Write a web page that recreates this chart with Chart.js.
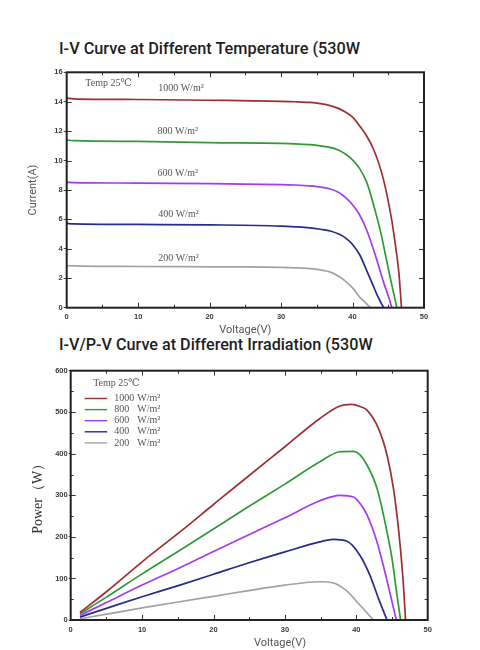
<!DOCTYPE html>
<html><head><meta charset="utf-8">
<script src="https://cdn.jsdelivr.net/npm/chart.js@4.4.1/dist/chart.umd.min.js"></script>
<style>
html,body{margin:0;padding:0;background:#fff;width:480px;height:650px;overflow:hidden;position:relative}
.title{position:absolute;left:59px;font:500 16px/16px Roboto,sans-serif;color:#1e1e1e;white-space:nowrap;transform-origin:0 0}
#c1{position:absolute;left:0;top:60px}
#c2{position:absolute;left:0;top:360px}
.xt{position:absolute;font:11px/12px Roboto,sans-serif;color:#555;white-space:nowrap}
</style></head><body>
<div class="title" id="t1" style="top:40.5px">I-V Curve at Different Temperature (530W</div>
<div class="title" id="t2" style="top:336.5px">I-V/P-V Curve at Different Irradiation (530W</div>
<canvas id="c1" width="480" height="285"></canvas>
<canvas id="c2" width="480" height="290"></canvas>
<div class="xt" id="xt2" style="left:255px;top:637px">Voltage(V)</div>
<script>
// ---------- data: irradiance series ----------
const irradiance = ['1000', '800', '600', '400', '200'];
const unit = 'W/m²';
const tempLabel = 'Temp 25℃';
const voltageTicks = [0, 10, 20, 30, 40, 50];
const currentTicks = [0, 2, 4, 6, 8, 10, 12, 14, 16];
const powerTicks = [0, 100, 200, 300, 400, 500, 600];

// I-V curves (voltage V, current A)
const iv1000V = [0, 1, 10, 20, 30, 32, 34, 35.5, 37, 38, 39, 40, 41, 42, 43, 44, 44.8, 45.5, 46.1, 46.5, 46.85];
const iv1000I = [14.25, 14.2, 14.15, 14.1, 14.03, 14.0, 13.95, 13.87, 13.72, 13.55, 13.3, 12.95, 12.35, 11.65, 10.7, 9.3, 7.7, 5.9, 3.9, 2.3, 0];
const iv800V = [0, 1, 10, 20, 30, 32, 34, 35.5, 37, 38, 39, 40, 41, 42, 43, 44, 44.6, 45.2, 45.7, 46.2];
const iv800I = [11.4, 11.35, 11.3, 11.22, 11.17, 11.14, 11.08, 11.0, 10.88, 10.72, 10.45, 10.05, 9.45, 8.5, 6.9, 5.0, 3.6, 2.2, 1.1, 0];
const iv600V = [0, 1, 10, 20, 30, 32, 34, 35.5, 37, 38, 39, 40, 41, 42, 43, 43.8, 44.5, 45.0, 45.5];
const iv600I = [8.52, 8.5, 8.47, 8.43, 8.37, 8.34, 8.28, 8.2, 8.05, 7.85, 7.5, 7.0, 6.3, 5.25, 3.85, 2.6, 1.5, 0.8, 0];
const iv400V = [0, 1, 10, 20, 30, 32, 34, 35.5, 37, 38, 39, 40, 41, 42, 42.8, 43.5, 44.35];
const iv400I = [5.73, 5.7, 5.66, 5.63, 5.55, 5.5, 5.43, 5.33, 5.2, 5.02, 4.75, 4.3, 3.6, 2.5, 1.6, 0.8, 0];
const iv200V = [0, 1, 10, 20, 25, 30, 32, 34, 35.5, 37, 38, 39, 40, 41, 41.8, 42.5];
const iv200I = [2.86, 2.84, 2.8, 2.78, 2.77, 2.74, 2.71, 2.66, 2.57, 2.4, 2.15, 1.8, 1.35, 0.72, 0.35, 0];

// P-V curves (voltage V, power W)
const pv1000V = [1.3, 5, 10, 15.3, 20, 24.65, 30, 34.9, 37.7, 39.35, 40.5, 41.5, 43.1, 44.3, 45.2, 45.9, 46.5, 46.9];
const pv1000P = [18, 68, 140, 212, 278, 343, 417, 485, 515, 519, 514, 505, 461, 397, 317, 221, 108, 0];
const pv800V = [1.3, 5, 10, 15.3, 20, 24.65, 30, 34.9, 37.7, 39.6, 40.5, 41.5, 42.9, 44.0, 45.0, 45.7, 46.2];
const pv800P = [15, 55, 111, 168, 219, 270, 327, 381, 405, 406, 398, 373, 317, 237, 148, 60, 0];
const pv600V = [1.3, 5, 10, 15.3, 20, 24.65, 30, 34.9, 37.7, 39.6, 40.5, 41.5, 42.9, 44.0, 45.0, 45.6];
const pv600P = [11, 42, 84, 126, 165, 203, 246, 287, 300, 296, 281, 253, 188, 116, 44, 0];
const pv400V = [1.3, 5, 10, 15.3, 20, 24.65, 30, 34.9, 36.8, 38.65, 40.5, 41.9, 43.1, 44.3];
const pv400P = [7, 28, 56, 84, 110, 136, 164, 188, 194, 190, 156, 108, 52, 0];
const pv200V = [1.3, 5, 10, 15.3, 20, 24.65, 30, 34.9, 36.8, 38.65, 40.5, 42.4];
const pv200P = [3, 14, 29, 44, 57, 70, 84, 92, 89, 70, 36, 0];

// ---------- styles ----------
const colors = ['#9e2f30', '#2f9a36', '#a13cf0', '#272b8b', '#a2a2a2'];
const tickFont = {family: "'Liberation Sans', Arial, sans-serif", size: 7.5, weight: 'bold'};
const serif = "'Liberation Serif', 'DejaVu Serif', serif";

const zip = (xs, ys) => xs.map((x, i) => ({x, y: ys[i]}));
const ivSets = [[iv1000V, iv1000I], [iv800V, iv800I], [iv600V, iv600I], [iv400V, iv400I], [iv200V, iv200I]];
const pvSets = [[pv1000V, pv1000P], [pv800V, pv800P], [pv600V, pv600P], [pv400V, pv400P], [pv200V, pv200P]];
const mkDatasets = sets => sets.map((s, k) => ({
  label: irradiance[k], data: zip(s[0], s[1]), borderColor: colors[k], backgroundColor: colors[k],
  borderWidth: 1.7, pointRadius: 0, fill: false, cubicInterpolationMode: 'monotone'
}));

// frame + inward ticks
const frameTicks = {
  id: 'frameTicks',
  afterDatasetsDraw(chart, args, o) {
    const {ctx, chartArea: a, scales: {x, y}} = chart;
    ctx.save();
    ctx.strokeStyle = '#333'; ctx.lineWidth = 1;
    ctx.beginPath();
    for (let v = x.min + o.xStep; v < x.max; v += o.xStep) {
      const p = Math.round(x.getPixelForValue(v)) + 0.5;
      const len = (v % o.xMajor === 0) ? 5 : 3;
      ctx.moveTo(p, a.bottom); ctx.lineTo(p, a.bottom - len);
      ctx.moveTo(p, a.top); ctx.lineTo(p, a.top + len);
    }
    for (let v = y.min + o.yStep; v < y.max; v += o.yStep) {
      const p = Math.round(y.getPixelForValue(v)) + 0.5;
      const len = (v % o.yMajor === 0) ? 5 : 3;
      ctx.moveTo(a.left, p); ctx.lineTo(a.left + len, p);
      ctx.moveTo(a.right, p); ctx.lineTo(a.right - len, p);
    }
    ctx.stroke();
    ctx.strokeStyle = '#222'; ctx.lineWidth = 2;
    ctx.strokeRect(a.left, a.top, a.right - a.left, a.bottom - a.top);
    ctx.restore();
  }
};

// text notes for I-V chart (positions in data units)
const ivNotes = [
  {text: tempLabel, v: 2.6, i: 15.25},
  {text: irradiance[0] + ' ' + unit, v: 12.8, i: 14.92},
  {text: irradiance[1] + ' ' + unit, v: 12.7, i: 12.0},
  {text: irradiance[2] + ' ' + unit, v: 12.7, i: 9.14},
  {text: irradiance[3] + ' ' + unit, v: 12.8, i: 6.33},
  {text: irradiance[4] + ' ' + unit, v: 12.8, i: 3.37}
];
const notesPlugin = {
  id: 'notes',
  afterDatasetsDraw(chart) {
    const {ctx, scales: {x, y}} = chart;
    ctx.save();
    ctx.fillStyle = '#555'; ctx.font = '10px ' + serif; ctx.textBaseline = 'middle'; ctx.textAlign = 'left';
    ivNotes.forEach(n => ctx.fillText(n.text, x.getPixelForValue(n.v), y.getPixelForValue(n.i)));
    ctx.restore();
  }
};

// legend drawn inside the P-V chart area
const insideLegend = {
  id: 'insideLegend',
  afterDatasetsDraw(chart) {
    const {ctx, chartArea: a} = chart;
    ctx.save();
    ctx.fillStyle = '#555'; ctx.font = '10px ' + serif; ctx.textBaseline = 'middle'; ctx.textAlign = 'left';
    ctx.fillText(tempLabel, a.left + 22.5, a.top + 12.5);
    chart.data.datasets.forEach((d, k) => {
      const yy = a.top + 27.8 + k * 11.1;
      ctx.strokeStyle = d.borderColor; ctx.lineWidth = 1.4;
      ctx.beginPath(); ctx.moveTo(a.left + 14, yy); ctx.lineTo(a.left + 36.5, yy); ctx.stroke();
      ctx.fillStyle = '#555';
      ctx.fillText(d.label, a.left + 43.5, yy);
      ctx.fillText(unit, a.left + 66.5, yy);
    });
    ctx.restore();
  }
};

const baseX = (h) => ({
  type: 'linear', min: 0, max: 50,
  afterFit: s => { s.height = h; },
  afterBuildTicks: s => { s.ticks = voltageTicks.map(v => ({value: v})); },
  grid: {display: false, drawTicks: false, tickLength: 0}, border: {display: false},
  ticks: {font: tickFont, color: '#3a3a3a', padding: 5, maxRotation: 0}
});

new Chart(document.getElementById('c1'), {
  type: 'line',
  data: {datasets: mkDatasets(ivSets)},
  options: {
    responsive: false, animation: false, events: [],
    layout: {padding: {top: 12.3, right: 56, left: 0, bottom: 0}},
    plugins: {legend: {display: false}, tooltip: {enabled: false},
      frameTicks: {xStep: 5, xMajor: 10, yStep: 2, yMajor: 2}},
    scales: {
      x: Object.assign(baseX(37.3), {title: {display: true, text: 'Voltage(V)', color: '#555',
        font: {family: 'Roboto, sans-serif', size: 11}, padding: {top: 0, bottom: 8.4}}}),
      y: {
        type: 'linear', min: 0, max: 16,
        afterFit: s => { s.width = 66.7; },
        afterBuildTicks: s => { s.ticks = currentTicks.map(v => ({value: v})); },
        grid: {drawOnChartArea: false, drawTicks: true, tickLength: 3, color: '#444'}, border: {display: false},
        ticks: {font: tickFont, color: '#3a3a3a', padding: 1},
        title: {display: true, text: 'Current(A)', color: '#555',
          font: {family: 'Roboto, sans-serif', size: 11}, padding: {top: 26.4, bottom: 0}}
      }
    }
  },
  plugins: [frameTicks, notesPlugin]
});

new Chart(document.getElementById('c2'), {
  type: 'line',
  data: {datasets: mkDatasets(pvSets)},
  options: {
    responsive: false, animation: false, events: [],
    layout: {padding: {top: 10.7, right: 52.3, left: 0, bottom: 0}},
    plugins: {legend: {display: false}, tooltip: {enabled: false},
      frameTicks: {xStep: 5, xMajor: 10, yStep: 50, yMajor: 100}},
    scales: {
      x: baseX(30),
      y: {
        type: 'linear', min: 0, max: 600,
        afterFit: s => { s.width = 70.7; },
        afterBuildTicks: s => { s.ticks = powerTicks.map(v => ({value: v})); },
        grid: {drawOnChartArea: false, drawTicks: true, tickLength: 2, color: '#444'}, border: {display: false},
        ticks: {font: tickFont, color: '#3a3a3a', padding: 1},
        title: {display: true, text: 'Power（W）', color: '#333',
          font: {family: serif, size: 14}, padding: {top: 29.6, bottom: 0}}
      }
    }
  },
  plugins: [frameTicks, insideLegend]
});

// fit the headline widths to the reference
function fitTitles() {
  [['t1', 301], ['t2', 314]].forEach(([id, w]) => {
    const el = document.getElementById(id);
    el.style.transform = 'none';
    el.style.transform = 'scaleX(' + (w / el.scrollWidth) + ')';
  });
  const xt = document.getElementById('xt2');
  xt.style.left = (280 - xt.offsetWidth / 2) + 'px';
}
fitTitles();
if (document.fonts && document.fonts.ready) document.fonts.ready.then(fitTitles);
</script>
</body></html>
